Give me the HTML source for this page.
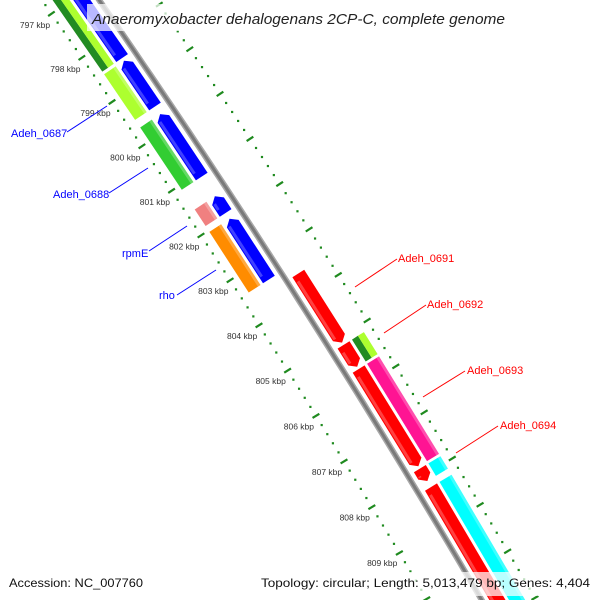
<!DOCTYPE html>
<html><head><meta charset="utf-8"><style>
html,body{margin:0;padding:0;background:#fff;width:600px;height:600px;overflow:hidden;}
svg{display:block;font-family:"Liberation Sans","DejaVu Sans",sans-serif;}
</style></head><body>
<svg id="map" width="600" height="600" viewBox="0 0 600 600" xmlns="http://www.w3.org/2000/svg">
<g id="ticks"></g>
<g id="backbone"></g>
<g id="genes"></g>
<g id="klabels" font-size="8.5" fill="#333" text-anchor="middle"></g>
<g font-size="11" fill="#0000ff">
<line x1="67" y1="132" x2="107" y2="106" stroke="#0000ff" stroke-width="1"/>
<text x="11" y="137">Adeh_0687</text>
<line x1="109" y1="193" x2="148" y2="168" stroke="#0000ff" stroke-width="1"/>
<text x="53" y="198">Adeh_0688</text>
<line x1="149" y1="251" x2="187" y2="226" stroke="#0000ff" stroke-width="1"/>
<text x="122" y="257">rpmE</text>
<line x1="177" y1="295" x2="216" y2="270" stroke="#0000ff" stroke-width="1"/>
<text x="159" y="299">rho</text>
</g>
<g font-size="11" fill="#ff0000">
<line x1="397" y1="259" x2="355" y2="287" stroke="#ff0000" stroke-width="1"/>
<text x="398" y="262">Adeh_0691</text>
<line x1="426" y1="305" x2="384" y2="333" stroke="#ff0000" stroke-width="1"/>
<text x="427" y="308">Adeh_0692</text>
<line x1="465" y1="371" x2="423" y2="397" stroke="#ff0000" stroke-width="1"/>
<text x="467" y="374">Adeh_0693</text>
<line x1="498" y1="426" x2="456" y2="453" stroke="#ff0000" stroke-width="1"/>
<text x="500" y="429">Adeh_0694</text>
</g>
<g>
<rect x="87" y="4" width="424" height="27" fill="#fff" fill-opacity="0.72"/>
<text x="92" y="24" font-size="15" font-style="italic" fill="#222" textLength="413" lengthAdjust="spacingAndGlyphs">Anaeromyxobacter dehalogenans 2CP-C, complete genome</text>
</g>
<g font-size="12" fill="#111">
<rect x="4" y="572" width="144" height="24" fill="#fff" fill-opacity="0.72"/>
<text x="9" y="587" textLength="134" lengthAdjust="spacingAndGlyphs">Accession: NC_007760</text>
<rect x="256" y="572" width="340" height="24" fill="#fff" fill-opacity="0.72"/>
<text x="261" y="587" textLength="329" lengthAdjust="spacingAndGlyphs">Topology: circular; Length: 5,013,479 bp; Genes: 4,404</text>
</g>
</svg>
<script>
// ---- data ----
const tickKbp = [795,796,797,798,799,800,801,802,803,804,805,806,807,808,809,810,811,812];
const tickLabels = ["795 kbp","796 kbp","797 kbp","798 kbp","799 kbp","800 kbp","801 kbp","802 kbp","803 kbp","804 kbp","805 kbp","806 kbp","807 kbp","808 kbp","809 kbp","810 kbp","811 kbp","812 kbp"];
const geneNames = ["Adeh_0686","Adeh_0687","Adeh_0688","rpmE","rho","Adeh_0691","Adeh_0692","Adeh_0693","Adeh_0694","Adeh_0695"];
const geneStarts = [796.0,798.49,799.69,801.53,802.03,803.58,805.15,805.68,807.85,808.25];
const geneEnds   = [798.43,799.52,801.09,801.90,803.38,805.10,805.63,807.80,808.12,812.0];
const geneStrands = [-1,-1,-1,-1,-1,1,1,1,1,1];
const cogColorsA = ["#228b22","#adff2f","#32cd32","#f08080","#ff8c00","#ff0000","#228b22","#ff1493","#00ffff","#00ffff"];
const cogColorsB = ["#adff2f","#adff2f","#32cd32","#f08080","#ff8c00","#ff0000","#adff2f","#ff1493","#00ffff","#00ffff"];
const geneHasCog = [1,1,1,1,1,0,1,1,1,1];

// ---- geometry ----
const cx=-7463, cy=5245, R=9203;
const a800=-33.84*Math.PI/180, da=0.3347*Math.PI/180;
function P(k,off){const a=a800+(k-800)*da, r=R+off; return [cx+r*Math.cos(a), cy+r*Math.sin(a)];}
const NS='http://www.w3.org/2000/svg';
function mk(tag,attrs,parent){const e=document.createElementNS(NS,tag);for(const k in attrs)e.setAttribute(k,attrs[k]);parent.appendChild(e);return e;}
function ptsStr(a){return a.map(p=>p[0].toFixed(1)+','+p[1].toFixed(1)).join(' ');}

// backbone
const bb=document.getElementById('backbone');
let bpts=[];for(let k=795;k<=812.01;k+=0.25)bpts.push(P(k,0));
let b1=mk('polyline',{points:ptsStr(bpts),fill:'none',stroke:'#a8a8a8','stroke-width':6},bb);


let b2=mk('polyline',{points:ptsStr(bpts),fill:'none',stroke:'#7a7a7a','stroke-width':3},bb);



// ticks
const tg=document.getElementById('ticks');
const kl=document.getElementById('klabels');
[-47,47].forEach(function(off){
  for(let i=0;i<tickKbp.length;i++){
    const k=tickKbp[i];
    const a=P(k,off-4), b=P(k,off+4);
    let t=mk('line',{x1:a[0],y1:a[1],x2:b[0],y2:b[1],stroke:'#1f8a1f','stroke-width':2.2},tg);
    
    
    if(i<tickKbp.length-1){
      for(let j=1;j<5;j++){
        const m=k+j*0.2, c=P(m,off);
        let d=mk('rect',{x:c[0]-1,y:c[1]-1,width:2.2,height:2.2,fill:'#1f8a1f'},tg);
        
        
      }
    }
  }
});
for(let i=0;i<tickKbp.length;i++){
  const c=P(tickKbp[i],-67);
  let t=mk('text',{x:c[0].toFixed(1),y:(c[1]+3).toFixed(1)},kl);
  t.textContent=tickLabels[i];
  
  
}

// genes
const gg=document.getElementById('genes');
const H=7, HEAD=0.11;
function arrow(k1,k2,c,strand){
  const head=Math.min(HEAD,(k2-k1)*0.6);
  if(strand<0){
    return [P(k1+head,c+H),P(k2,c+H),P(k2,c-H),P(k1+head,c-H),P(k1,c)];
  } else {
    return [P(k1,c+H),P(k2-head,c+H),P(k2,c),P(k2-head,c-H),P(k1,c-H)];
  }
}
function rectPts(k1,k2,o1,o2){return [P(k1,o1),P(k2,o1),P(k2,o2),P(k1,o2)];}
for(let i=0;i<geneNames.length;i++){
  const s=geneStarts[i], e=geneEnds[i], st=geneStrands[i];
  const laneMain = st<0 ? -14 : 14;
  const laneCog = st<0 ? -31 : 31;
  const mainColor = st<0 ? '#0000ff' : '#ff0000';
  let g=mk('g',{},gg);
  
  
  let p=mk('polygon',{points:ptsStr(arrow(s,e,laneMain,st)),fill:mainColor},g);
  
  
  let hl=mk('polygon',{points:ptsStr(rectPts(s+0.12,e-0.12,laneMain-H+1,laneMain-H+4)),fill:'#fff','fill-opacity':0.25},g);
  
  
  if(geneHasCog[i]){
    if(cogColorsA[i]!==cogColorsB[i]){
      let c1=mk('polygon',{points:ptsStr(rectPts(s,e,laneCog-H,laneCog)),fill:cogColorsA[i]},g);
      
      
      let c2=mk('polygon',{points:ptsStr(rectPts(s,e,laneCog,laneCog+H)),fill:cogColorsB[i]},g);
      
      
    } else {
      let c1=mk('polygon',{points:ptsStr(rectPts(s,e,laneCog-H,laneCog+H)),fill:cogColorsA[i]},g);
      
      
      let c3=mk('polygon',{points:ptsStr(rectPts(s,e,laneCog+H-3,laneCog+H)),fill:'#fff','fill-opacity':0.25},g);
      
      
    }
  }
}
</script>
</body></html>
